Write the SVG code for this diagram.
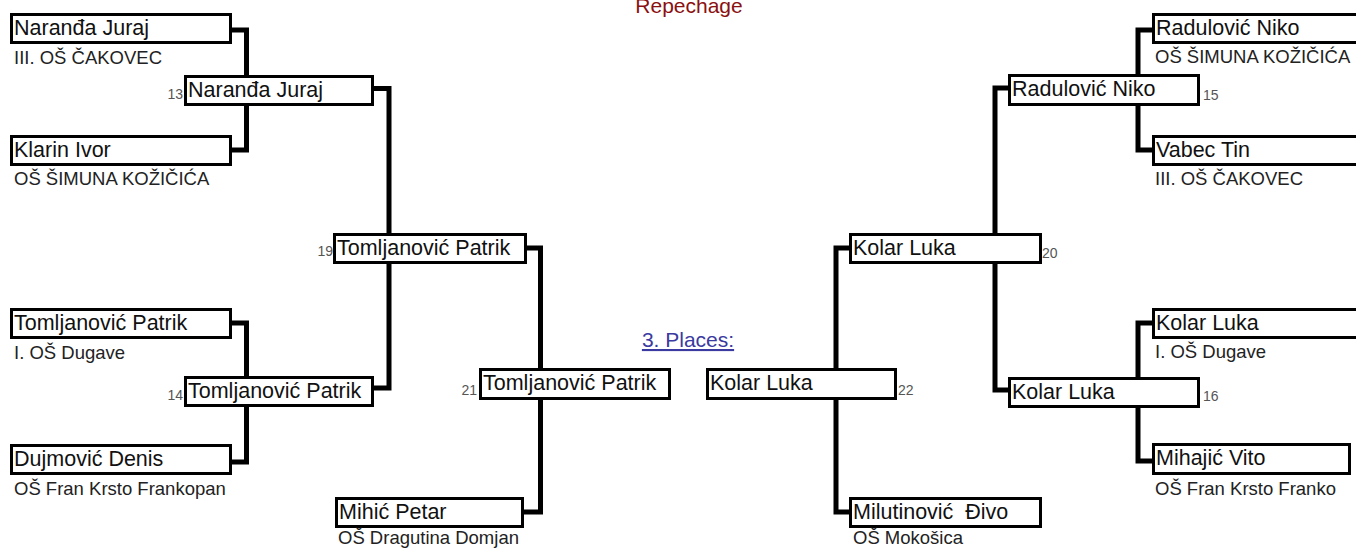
<svg xmlns="http://www.w3.org/2000/svg" width="1356" height="549" viewBox="0 0 1356 549">
<style>
.box{fill:#fff;stroke:#000;stroke-width:3}
.nm{font-family:"Liberation Sans",Arial,sans-serif;font-size:21.5px;fill:#111}
.sc{font-family:"Liberation Sans",Arial,sans-serif;font-size:18.5px;fill:#222}
.no{font-family:"Liberation Sans",Arial,sans-serif;font-size:14px;fill:#555}
.con{fill:none;stroke:#000;stroke-width:5;stroke-linejoin:miter}
.ttl{font-family:"Liberation Sans",Arial,sans-serif;font-size:21px}
</style>
<rect width="1356" height="549" fill="#fff"/>
<text class="ttl" x="689" y="13" text-anchor="middle" fill="#8b1010">Repechage</text>
<text class="ttl" x="688" y="347" text-anchor="middle" fill="#3a3aa0" text-decoration="underline">3. Places:</text>
<g id="connectors">
<path class="con" d="M232,30 H246.5 V150 H232"/>
<path class="con" d="M374,88.5 H389 V388 H374"/>
<path class="con" d="M232,323 H246.5 V462 H232"/>
<path class="con" d="M527,248 H540.5 V512 H524"/>
<path class="con" d="M1152,30 H1138 V150 H1152"/>
<path class="con" d="M1008,88 H995 V390 H1008"/>
<path class="con" d="M1152,323 H1138 V461 H1152"/>
<path class="con" d="M849,248 H836 V512 H849"/>
</g>
<g id="n-naranda-r1"><rect class="box" x="11.5" y="14.5" width="219" height="28"/><text class="nm" x="14" y="35">Naranđa Juraj</text><text class="sc" x="14" y="64">III. OŠ ČAKOVEC</text></g>
<g id="n-klarin"><rect class="box" x="11.5" y="136.5" width="219" height="28"/><text class="nm" x="14" y="157">Klarin Ivor</text><text class="sc" x="14" y="185">OŠ ŠIMUNA KOŽIČIĆA</text></g>
<g id="n-tomljanovic-r1"><rect class="box" x="11.5" y="309.5" width="219" height="28"/><text class="nm" x="14" y="330">Tomljanović Patrik</text><text class="sc" x="14" y="359">I. OŠ Dugave</text></g>
<g id="n-dujmovic"><rect class="box" x="11.5" y="445.5" width="219" height="28"/><text class="nm" x="14" y="466">Dujmović Denis</text><text class="sc" x="14" y="495">OŠ Fran Krsto Frankopan</text></g>
<g id="n-13"><rect class="box" x="185.5" y="76.5" width="187" height="28"/><text class="nm" x="188" y="97">Naranđa Juraj</text><text class="no" x="183" y="99" text-anchor="end">13</text></g>
<g id="n-14"><rect class="box" x="185.5" y="377.5" width="187" height="28"/><text class="nm" x="188" y="398">Tomljanović Patrik</text><text class="no" x="183" y="400" text-anchor="end">14</text></g>
<g id="n-19"><rect class="box" x="334.5" y="234.5" width="191" height="28"/><text class="nm" x="337" y="255">Tomljanović Patrik</text><text class="no" x="333" y="256" text-anchor="end">19</text></g>
<g id="n-21"><rect class="box" x="480.5" y="369.5" width="189" height="29"/><text class="nm" x="483" y="390">Tomljanović Patrik</text><text class="no" x="477" y="395" text-anchor="end">21</text></g>
<g id="n-mihic"><rect class="box" x="336.5" y="498.5" width="186" height="28"/><text class="nm" x="339" y="519">Mihić Petar</text><text class="sc" x="338" y="544">OŠ Dragutina Domjan</text></g>
<g id="n-radulovic-r1"><rect class="box" x="1153.5" y="14.5" width="226" height="28"/><text class="nm" x="1156" y="35">Radulović Niko</text><text class="sc" x="1155" y="63">OŠ ŠIMUNA KOŽIČIĆA</text></g>
<g id="n-vabec"><rect class="box" x="1153.5" y="136.5" width="226" height="28"/><text class="nm" x="1156" y="157">Vabec Tin</text><text class="sc" x="1155" y="185">III. OŠ ČAKOVEC</text></g>
<g id="n-kolar-r1"><rect class="box" x="1153.5" y="309.5" width="226" height="28"/><text class="nm" x="1156" y="330">Kolar Luka</text><text class="sc" x="1155" y="358">I. OŠ Dugave</text></g>
<g id="n-mihajic"><rect class="box" x="1153.5" y="444.5" width="196" height="29"/><text class="nm" x="1156" y="465">Mihajić Vito</text><text class="sc" x="1155" y="495">OŠ Fran Krsto Franko</text></g>
<g id="n-15"><rect class="box" x="1009.5" y="75.5" width="189" height="29"/><text class="nm" x="1012" y="96">Radulović Niko</text><text class="no" x="1203" y="100">15</text></g>
<g id="n-16"><rect class="box" x="1009.5" y="378.5" width="189" height="28"/><text class="nm" x="1012" y="399">Kolar Luka</text><text class="no" x="1203" y="401">16</text></g>
<g id="n-20"><rect class="box" x="850.5" y="234.5" width="190" height="28"/><text class="nm" x="853" y="255">Kolar Luka</text><text class="no" x="1042" y="258">20</text></g>
<g id="n-22"><rect class="box" x="707.5" y="369.5" width="188" height="29"/><text class="nm" x="710" y="390">Kolar Luka</text><text class="no" x="898" y="395">22</text></g>
<g id="n-milutinovic"><rect class="box" x="850.5" y="498.5" width="190" height="28"/><text class="nm" x="853" y="519" xml:space="preserve">Milutinović  Đivo</text><text class="sc" x="853" y="544">OŠ Mokošica</text></g>
</svg>
